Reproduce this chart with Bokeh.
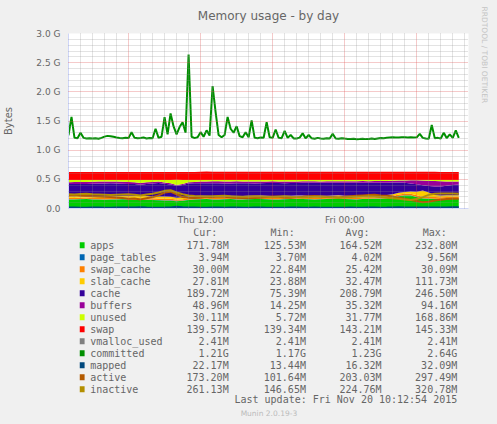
from datetime import datetime, timedelta
from bokeh.plotting import figure
from bokeh.layouts import column
from bokeh.models import (Range1d, FixedTicker, ColumnDataSource, DatetimeTickFormatter, Title)
from bokeh.core.properties import value
from bokeh.embed import file_html
from bokeh.resources import INLINE

# ---------------- data (MB, 30-min samples from Thu 01:00) ----------------
apps = [160,158,162,165,160,158,155,157,160,162,
        158,150,148,152,150,145,140,138,126,135,
        150,158,162,165,160,158,162,165,160,158,
        162,165,168,164,160,158,162,165,168,166,
        164,160,162,165,168,170,166,162,160,165,
        168,170,172,175,190,215,230,228,200,175,
        170,168,165,170,172,172]
page_tables = [4.0,4.0,4.1,4.0,3.9,4.0,4.0,4.1,4.0,4.0,
               4.0,4.1,4.2,4.0,4.0,3.9,4.1,5.0,9.5,5.2,
               4.0,4.0,4.0,4.1,4.0,3.9,4.0,4.0,4.0,4.1,
               4.0,4.0,3.9,4.0,4.0,4.0,4.1,4.0,4.0,4.0,
               4.0,3.9,4.0,4.0,4.1,4.0,4.0,4.0,3.9,4.0,
               4.0,4.0,4.1,4.0,4.0,4.0,4.2,4.1,4.0,4.0,
               4.0,4.0,3.9,3.9,4.0,3.9]
swap_cache = [24,24,25,25,24,24,25,25,24,24,
              25,25,26,25,24,25,26,27,23,24,
              25,25,25,26,25,25,24,25,25,26,
              26,25,25,25,26,26,25,25,25,26,
              26,26,25,25,26,26,25,25,26,26,
              25,25,26,26,25,25,26,27,28,28,
              28,29,29,30,30,30]
slab_cache = [30,30,31,32,30,30,31,30,32,34,
              35,45,60,38,34,36,40,35,30,32,
              30,31,32,30,31,30,32,31,30,31,
              30,31,30,32,31,30,31,30,30,31,
              30,30,31,30,30,32,30,31,30,30,
              30,31,30,30,32,31,30,40,60,111,
              80,35,30,28,28,28]
cache = [214,216,210,206,216,221,223,225,217,210,
         209,204,177,213,227,236,223,217,210,218,
         231,224,221,219,225,227,216,214,224,224,
         220,216,217,221,227,228,222,223,222,224,
         228,231,229,228,224,222,225,229,232,229,
         224,222,222,216,204,181,162,140,134,89,
         113,152,159,167,178,189]
buffers = [30,32,34,35,36,35,34,33,35,36,
           36,34,32,30,28,26,24,20,14,18,
           22,25,28,30,32,33,34,35,34,33,
           32,31,30,30,29,28,28,27,27,26,
           26,26,25,25,26,26,27,27,28,28,
           29,30,30,31,32,34,40,55,70,85,
           92,94,90,75,60,49]
unused = [40,38,36,35,32,30,30,28,30,32,
          35,40,55,40,35,30,45,60,90,70,
          40,35,30,28,25,25,30,28,25,26,
          28,30,28,26,25,28,30,28,26,25,
          24,25,26,25,24,22,25,24,22,20,
          22,20,18,20,15,12,10,8,6,10,
          15,20,25,28,30,30]
swap = [139.4,139.4,139.4,139.5,139.4,139.4,139.4,139.4,139.4,139.5,
        139.4,139.4,139.4,139.4,139.4,139.4,139.4,139.4,139.4,139.4,
        139.4,139.5,145.3,145.3,145.3,145.2,145.3,145.3,145.3,144.0,
        144.0,144.0,144.1,144.0,144.0,144.0,144.0,144.0,144.0,144.0,
        144.0,144.0,144.0,144.0,144.0,144.0,144.1,144.0,144.0,144.0,
        144.0,144.0,144.0,144.0,144.0,144.0,144.0,144.0,144.0,144.0,
        144.0,144.0,139.5,139.5,139.6,139.6]
vmalloc_used = [2.41] * 66
mapped = [16,16,15,15,16,16,15,15,16,17,
          17,18,20,16,15,15,16,18,32,20,
          16,16,15,15,16,16,15,16,16,15,
          15,16,16,15,15,14,15,16,16,15,
          15,16,15,14,14,15,15,16,15,15,
          16,16,15,16,18,20,18,17,16,17,
          18,18,17,18,20,22]
active = [230,235,225,220,215,210,205,200,195,185,
          170,175,160,180,200,230,280,295,250,200,
          190,185,195,205,200,210,205,195,190,185,
          180,185,190,200,210,205,195,190,200,205,
          215,220,210,205,200,195,205,215,225,230,
          235,240,230,225,210,190,170,150,130,110,
          120,140,155,165,170,173]
inactive = [250,245,255,260,250,245,240,235,240,245,
            250,240,230,245,260,280,310,320,280,250,
            230,220,215,210,215,220,225,215,210,205,
            210,215,210,205,200,210,215,205,200,195,
            200,205,210,200,195,190,195,200,205,210,
            215,210,200,190,180,170,160,150,165,200,
            240,260,265,262,262,261]
# committed, 15-min samples from Thu 01:00
committed = [1285,1608,1240,1235,1330,1240,1230,1235,1228,1232,
             1225,1240,1262,1275,1268,1258,1245,1238,1232,1240,
             1236,1340,1240,1232,1236,1245,1230,1238,1232,1400,
             1240,1260,1605,1300,1668,1440,1300,1430,1515,1330,
             2703,1260,1235,1250,1340,1260,1372,1280,2150,1690,
             1290,1250,1290,1608,1400,1330,1445,1270,1250,1340,
             1250,1545,1240,1235,1245,1240,1515,1250,1240,1387,
             1240,1235,1362,1240,1290,1230,1228,1245,1320,1230,
             1290,1232,1225,1240,1230,1225,1235,1228,1310,1230,
             1225,1235,1228,1222,1218,1224,1215,1220,1226,1218,
             1222,1228,1220,1230,1238,1232,1240,1245,1250,1248,
             1245,1252,1250,1248,1252,1245,1250,1310,1240,1230,
             1225,1465,1235,1240,1228,1330,1235,1300,1240,1372,
             1240]

names = ["apps", "page_tables", "swap_cache", "slab_cache", "cache", "buffers", "unused",
         "swap", "vmalloc_used", "committed", "mapped", "active", "inactive"]
colors = ["#00CC00", "#0066B3", "#FF8000", "#FFCC00", "#330099", "#990099", "#CCFF00",
          "#FF0000", "#808080", "#008F00", "#00487D", "#B35A00", "#B38F00"]
cur = ["171.78M", "3.94M", "30.00M", "27.81M", "189.72M", "48.96M", "30.11M",
       "139.57M", "2.41M", "1.21G", "22.17M", "173.20M", "261.13M"]
mins = ["125.53M", "3.70M", "22.84M", "23.88M", "75.39M", "14.25M", "5.72M",
        "139.34M", "2.41M", "1.17G", "13.44M", "101.64M", "146.65M"]
avgs = ["164.52M", "4.02M", "25.42M", "32.47M", "208.79M", "35.32M", "31.77M",
        "143.21M", "2.41M", "1.23G", "16.32M", "203.03M", "224.76M"]
maxs = ["232.80M", "9.56M", "30.09M", "111.73M", "246.50M", "94.16M", "168.86M",
        "145.33M", "2.41M", "2.64G", "32.09M", "297.49M", "320.78M"]
headers = ["Cur:", "Min:", "Avg:", "Max:"]
y_ticks = [0, 512, 1024, 1536, 2048, 2560, 3072]
y_tick_labels = ["0.0", "0.5 G", "1.0 G", "1.5 G", "2.0 G", "2.5 G", "3.0 G"]
title_text = "Memory usage - by day"
y_label = "Bytes"
last_update = "Last update: Fri Nov 20 10:12:54 2015"
version_text = "Munin 2.0.19-3"
watermark = "RRDTOOL / TOBI OETIKER"

FONT = "#666666"
AXC = "#CFD6F8"
TOP_H = 228   # height of the chart part; the legend part fills the rest of 424

# ---------------- chart figure ----------------
t0 = datetime(2015, 11, 19, 1, 0)
t_area = [t0 + timedelta(minutes=30 * i) for i in range(len(apps))]
t_comm = [t0 + timedelta(minutes=15 * i) for i in range(len(committed))]
x_end = t0 + timedelta(hours=33.31)

def ms(dt):
    return (dt - datetime(1970, 1, 1)).total_seconds() * 1000.0

p = figure(width=497, height=TOP_H, x_axis_type="datetime",
           x_range=Range1d(t0, x_end), y_range=Range1d(0, 3072),
           min_border_left=67, min_border_right=29, min_border_top=33,
           min_border_bottom=TOP_H - 208,
           toolbar_location=None, output_backend="svg")
p.title = Title(text=title_text, align="center", offset=-19.5, standoff=16.5, vertical_align="top",
                text_font="DejaVu Sans", text_font_size="12px", text_font_style="normal",
                text_color=FONT)
p.add_layout(Title(text=watermark, align="left", offset=-27, standoff=18, vertical_align="top",
                   text_font="DejaVu Sans", text_font_size="7.5px", text_font_style="normal",
                   text_color="#C4C4C4"), "right")
p.background_fill_color = "#FFFFFF"
p.border_fill_color = None
p.outline_line_color = None

src = ColumnDataSource(dict(t=t_area, apps=apps, page_tables=page_tables, swap_cache=swap_cache,
                            slab_cache=slab_cache, cache=cache, buffers=buffers, unused=unused,
                            swap=swap))
p.varea_stack(stackers=names[:8], x="t", color=colors[:8], source=src)
p.line(t_area, vmalloc_used, line_color=colors[8], line_width=2)
p.line(t_comm, committed, line_color=colors[9], line_width=2)
p.line(t_area, mapped, line_color=colors[10], line_width=2)
p.line(t_area, active, line_color=colors[11], line_width=2)
p.line(t_area, inactive, line_color=colors[12], line_width=2)

day = datetime(2015, 11, 19)
x_major_grid = [ms(day + timedelta(hours=h)) for h in (6, 12, 18, 24, 30)]
x_minor_grid = [ms(day + timedelta(hours=h)) for h in range(1, 35) if h % 6 != 0]
p.xaxis.ticker = FixedTicker(ticks=[ms(day + timedelta(hours=12)), ms(day + timedelta(hours=24))],
                             minor_ticks=[])
fmt = "%a %H:%M"
p.xaxis.formatter = DatetimeTickFormatter(microseconds=fmt, milliseconds=fmt, seconds=fmt,
                                          minsec=fmt, minutes=fmt, hourmin=fmt, hours=fmt,
                                          days=fmt, months=fmt, years=fmt)
p.yaxis.ticker = FixedTicker(ticks=y_ticks, minor_ticks=[])
p.yaxis.major_label_overrides = dict(zip(y_ticks, y_tick_labels))
for ax in (p.xaxis[0], p.yaxis[0]):
    ax.axis_line_color = AXC
    ax.major_tick_line_color = None
    ax.minor_tick_line_color = None
    ax.major_tick_out = 0
    ax.major_tick_in = 0
    ax.minor_tick_out = 0
    ax.minor_tick_in = 0
    ax.major_label_text_color = FONT
    ax.major_label_text_font = "DejaVu Sans"
    ax.major_label_text_font_size = "9px"
p.xaxis.major_label_standoff = 6
p.yaxis.major_label_standoff = 8
p.yaxis.axis_label = y_label
p.yaxis.axis_label_standoff = 19
p.yaxis.axis_label_text_font = "DejaVu Sans"
p.yaxis.axis_label_text_font_size = "10px"
p.yaxis.axis_label_text_font_style = "normal"
p.yaxis.axis_label_text_color = FONT

p.xgrid.ticker = FixedTicker(ticks=x_major_grid, minor_ticks=x_minor_grid)
y_minor = [102.4 * k for k in range(1, 30) if k % 5 != 0]
p.ygrid.ticker = FixedTicker(ticks=y_ticks, minor_ticks=y_minor)
for g in (p.xgrid[0], p.ygrid[0]):
    g.level = "overlay"
    g.grid_line_color = "#DE4F4F"
    g.grid_line_alpha = 0.6
    g.grid_line_dash = "1 1"
    g.minor_grid_line_color = "#8F8F8F"
    g.minor_grid_line_alpha = 0.5
    g.minor_grid_line_dash = "1 1"

# ---------------- legend figure (page coordinates TOP_H..424) ----------------
q = figure(width=497, height=424 - TOP_H, x_range=Range1d(0, 497), y_range=Range1d(424, TOP_H),
           min_border_left=0, min_border_right=0, min_border_top=0, min_border_bottom=0,
           x_axis_type=None, y_axis_type=None, toolbar_location=None, output_backend="svg")
q.grid.visible = False
q.outline_line_color = None
q.background_fill_color = None
q.border_fill_color = None

row_y = [244.7 + 12 * k for k in range(len(names))]
mono = value("DejaVu Sans Mono")
fs = value("10px")
q.rect(x=[17] * len(names), y=row_y, width=6, height=6, fill_color=colors, line_color=None)
q.text(x=[27] * len(names), y=row_y, text=names, text_font=mono, text_font_size=fs,
       text_color=FONT, text_align="left", text_baseline="middle")
q.text(x=[185, 281, 374, 470], y=[232.3] * 4, text=headers, text_font=mono, text_font_size=fs,
       text_color=FONT, text_align="right", text_baseline="middle")
for vals, xr in zip((cur, mins, avgs, maxs), (199, 295, 389, 483)):
    q.text(x=[xr] * len(vals), y=row_y, text=vals, text_font=mono, text_font_size=fs,
           text_color=FONT, text_align="right", text_baseline="middle")
q.text(x=[483], y=[399], text=[last_update], text_font=mono, text_font_size=fs,
       text_color=FONT, text_align="right", text_baseline="middle")
q.text(x=[249], y=[413], text=[version_text], text_font=value("DejaVu Sans"),
       text_font_size=value("7.5px"), text_color="#BBBBBB", text_align="center",
       text_baseline="middle")

layout = column(p, q, spacing=0)
html = file_html(layout, INLINE)
html = html.replace("</head>", "<style>html, body { background-color: #F0F0F0; }</style></head>", 1)
open("out.html", "w").write(html)
